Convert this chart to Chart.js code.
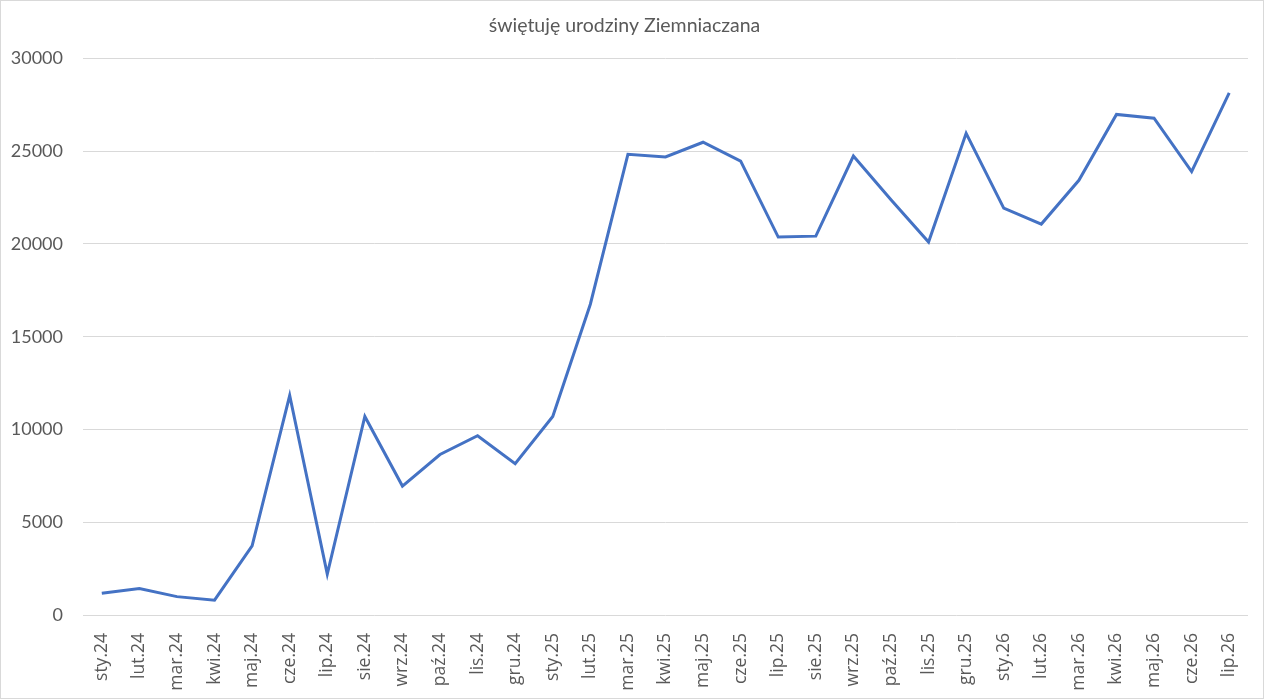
<!DOCTYPE html>
<html lang="pl">
<head>
    <meta charset="UTF-8">
    <title>świętuję urodziny Ziemniaczana</title>
    <script src="https://cdn.jsdelivr.net/npm/chart.js"></script>
    <style>
        html, body {
            margin: 0;
            padding: 0;
            background: #fff;
        }
        .chart-box {
            position: relative;
            width: 1264px;
            height: 699px;
            box-sizing: border-box;
            border: 1px solid #d9d9d9;
        }
    </style>
</head>
<body>

<div class="chart-box">
    <canvas id="potatoChart"></canvas>
</div>

<script>
const chartTitle = 'świętuję urodziny Ziemniaczana';

const months = [
    'sty.24', 'lut.24', 'mar.24', 'kwi.24', 'maj.24', 'cze.24', 'lip.24', 'sie.24',
    'wrz.24', 'paź.24', 'lis.24', 'gru.24', 'sty.25', 'lut.25', 'mar.25', 'kwi.25',
    'maj.25', 'cze.25', 'lip.25', 'sie.25', 'wrz.25', 'paź.25', 'lis.25', 'gru.25',
    'sty.26', 'lut.26', 'mar.26', 'kwi.26', 'maj.26', 'cze.26', 'lip.26'
];

const values = [
    1170, 1430, 990, 800, 3730, 11830, 2200, 10700,
    6950, 8650, 9660, 8150, 10700, 16750, 24830, 24690,
    25480, 24460, 20370, 20420, 24740, 22380, 20100, 25960,
    21930, 21070, 23430, 26980, 26780, 23900, 28140
];

const yTicks = [0, 5000, 10000, 15000, 20000, 25000, 30000];

const textGrey = '#595959';

new Chart(document.getElementById('potatoChart'), {
    type: 'line',
    data: {
        labels: months,
        datasets: [{
            label: chartTitle,
            data: values,
            borderColor: '#4472C4',
            borderWidth: 3,
            pointRadius: 0,
            pointHoverRadius: 0,
            tension: 0,
            fill: false
        }]
    },
    options: {
        responsive: true,
        maintainAspectRatio: false,
        animation: false,
        layout: {
            padding: { left: 0, right: 15, top: 0, bottom: 0 }
        },
        plugins: {
            legend: { display: false },
            tooltip: { enabled: false },
            title: {
                display: true,
                text: chartTitle,
                color: textGrey,
                font: { family: 'Lato', size: 19.5, weight: 'normal' },
                padding: { top: 13, bottom: 21 }
            }
        },
        scales: {
            x: {
                offset: true,
                grid: { display: false },
                border: { display: false },
                ticks: {
                    color: textGrey,
                    font: { family: 'Open Sans', size: 17.5 },
                    minRotation: 90,
                    maxRotation: 90,
                    autoSkip: false,
                    padding: 10
                },
                afterFit: function(scale) {
                    scale.height = 83;
                }
            },
            y: {
                min: yTicks[0],
                max: yTicks[yTicks.length - 1],
                grid: {
                    color: '#d9d9d9',
                    lineWidth: 1,
                    drawTicks: false
                },
                border: { display: false },
                ticks: {
                    stepSize: yTicks[1] - yTicks[0],
                    color: textGrey,
                    font: { family: 'Lato', size: 18 },
                    padding: 20,
                    callback: function(value) {
                        return String(value);
                    }
                },
                afterFit: function(scale) {
                    scale.width = 82;
                }
            }
        }
    }
});
</script>

</body>
</html>
